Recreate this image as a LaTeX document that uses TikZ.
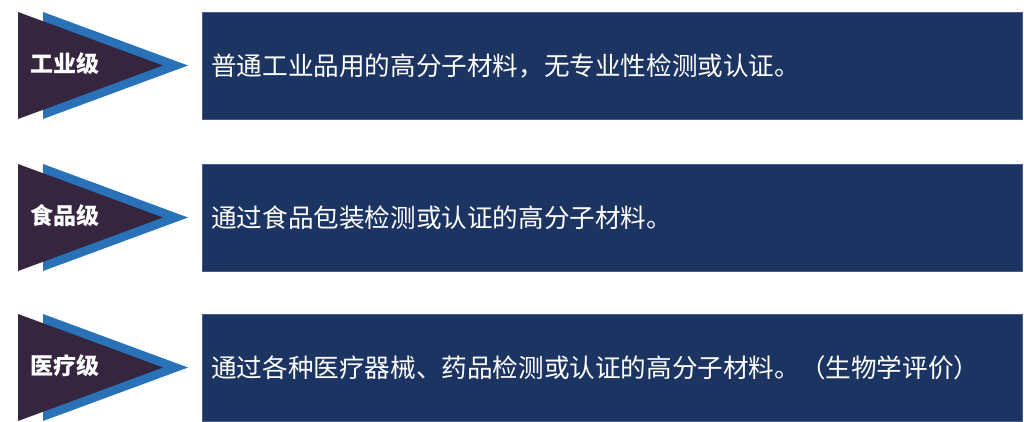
\documentclass[tikz,border=0pt]{standalone}
\usepackage{fontspec}
\setmainfont{Noto Sans CJK SC}
\usetikzlibrary{positioning}
\definecolor{gradedark}{HTML}{35253F}
\definecolor{gradeblue}{HTML}{2A72B8}
\definecolor{bandfill}{HTML}{1C3461}
\definecolor{bandedge}{HTML}{4A5F86}
\tikzset{
  band/.style = {draw=bandedge, fill=bandfill, thin, anchor=north west,
                 minimum width=820pt, minimum height=107pt, text width=802pt,
                 inner xsep=9pt, align=left, text=white,
                 font=\fontsize{25.6pt}{30pt}\selectfont},
  grade label/.style = {text=white, inner sep=0pt, anchor=west,
                        font=\bfseries\fontsize{23pt}{28pt}\selectfont},
  arrow back/.style = {fill=gradeblue},
  arrow front/.style = {fill=gradedark},
}

\begin{document}
\begin{tikzpicture}[x=1pt, y=-1pt]
  \useasboundingbox (0,0) rectangle (1024,422);

  %% One row per grade: two stacked arrow heads, the label and the text band
  \foreach \n/\rowtop/\grade/\desc in {%
      1/12/工业级/普通工业品用的高分子材料，无专业性检测或认证。,
      2/164/食品级/通过食品包装检测或认证的高分子材料。,
      3/314/医疗级/通过各种医疗器械、药品检测或认证的高分子材料。（生物学评价）}{%
    \fill [arrow back] (43,\rowtop) -- (43,\rowtop+107) -- (188,\rowtop+53.5) -- cycle;
    \fill [arrow front] (18,\rowtop) -- (18,\rowtop+107) -- (163,\rowtop+53.5) -- cycle;
    \node [grade label] (grade\n) at (30,\rowtop+52) {\grade};
    \node [band] (band\n) at (202,\rowtop) {\desc};
  }
\end{tikzpicture}
\end{document}
